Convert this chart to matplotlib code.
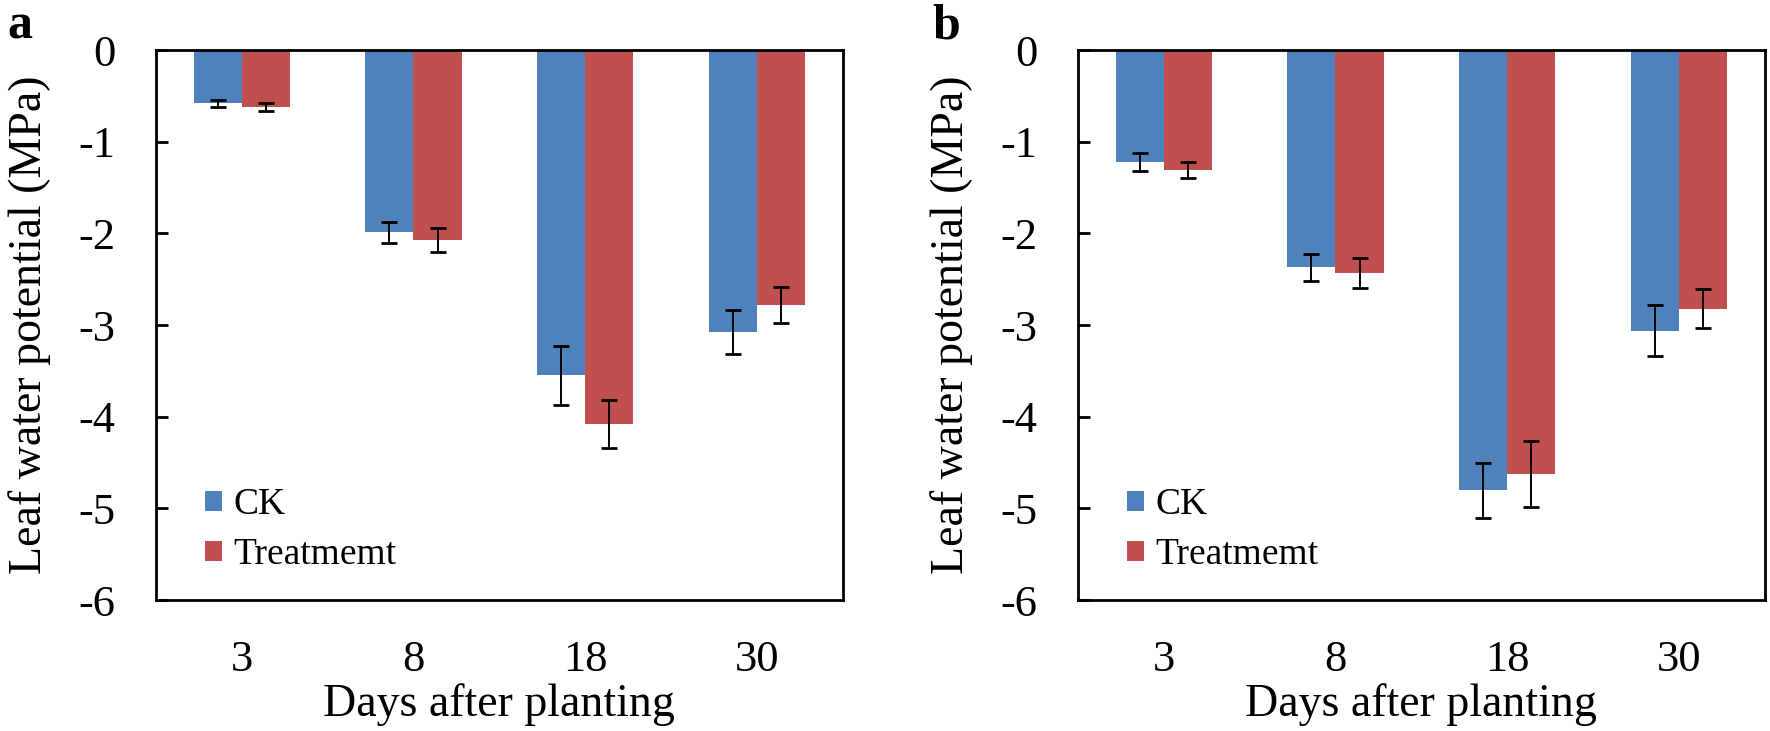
import matplotlib
matplotlib.use("Agg")
import matplotlib.pyplot as plt
from matplotlib.patches import Patch
import numpy as np

plt.rcParams['font.family'] = ['Liberation Serif', 'DejaVu Serif']

days = ["3", "8", "18", "30"]
series_names = ["CK", "Treatmemt"]

# Panel a
a_ck = [-0.58, -1.99, -3.55, -3.08]
a_ck_err = [0.04, 0.11, 0.32, 0.24]
a_tr = [-0.62, -2.07, -4.08, -2.78]
a_tr_err = [0.04, 0.13, 0.26, 0.20]

# Panel b
b_ck = [-1.22, -2.37, -4.80, -3.06]
b_ck_err = [0.10, 0.15, 0.30, 0.28]
b_tr = [-1.31, -2.43, -4.63, -2.82]
b_tr_err = [0.09, 0.165, 0.36, 0.21]

yticks = [0, -1, -2, -3, -4, -5, -6]
ylabel = "Leaf water potential (MPa)"
xlabel = "Days after planting"
panel_labels = ["a", "b"]

blue = "#4F81BD"
red = "#C0504D"

fig = plt.figure(figsize=(17.7, 7.31), dpi=100)
axes_pos = [[0.0881, 0.1792, 0.388, 0.7524], [0.609, 0.1792, 0.388, 0.7524]]
label_x = [0.004, 0.527]
data = [(a_ck, a_ck_err, a_tr, a_tr_err), (b_ck, b_ck_err, b_tr, b_tr_err)]

w = 0.28
for k, (pos, (ck, cke, tr, tre)) in enumerate(zip(axes_pos, data)):
    ax = fig.add_axes(pos)
    x = np.arange(len(days))
    ax.bar(x - w / 2, ck, width=w, color=blue, zorder=2)
    ax.bar(x + w / 2, tr, width=w, color=red, zorder=2)
    ax.errorbar(x - w / 2, ck, yerr=cke, fmt='none', ecolor='black',
                elinewidth=1.4, capsize=5.5, capthick=2.0, zorder=3)
    ax.errorbar(x + w / 2, tr, yerr=tre, fmt='none', ecolor='black',
                elinewidth=1.4, capsize=5.5, capthick=2.0, zorder=3)
    ax.set_xlim(-0.5, len(days) - 0.5)
    ax.set_ylim(-6, 0)
    ax.set_yticks(yticks)
    ax.set_yticklabels([str(t) for t in yticks])
    ax.set_xticks(x)
    ax.set_xticklabels(days)
    ax.tick_params(axis='y', direction='in', length=8.5, width=2, labelsize=32, pad=29)
    ax.tick_params(axis='x', length=0, labelsize=32, pad=29)
    for s in ax.spines.values():
        s.set_linewidth(2)
        s.set_color('black')
    ax.set_ylabel(ylabel, fontsize=33, labelpad=20)
    ax.set_xlabel(xlabel, fontsize=33, labelpad=2)
    handles = [Patch(facecolor=blue, edgecolor='none', label=series_names[0]),
               Patch(facecolor=red, edgecolor='none', label=series_names[1])]
    ax.legend(handles=handles, loc='lower left', bbox_to_anchor=(0.072, 0.051),
              frameon=False, fontsize=27, handlelength=0.45, handleheight=0.45,
              handletextpad=0.3, labelspacing=0.4, borderaxespad=0, borderpad=0)
    fig.text(label_x[k], 0.995, panel_labels[k], fontsize=36, fontweight='bold',
             ha='left', va='top')

fig.savefig("out.png", dpi=100)
